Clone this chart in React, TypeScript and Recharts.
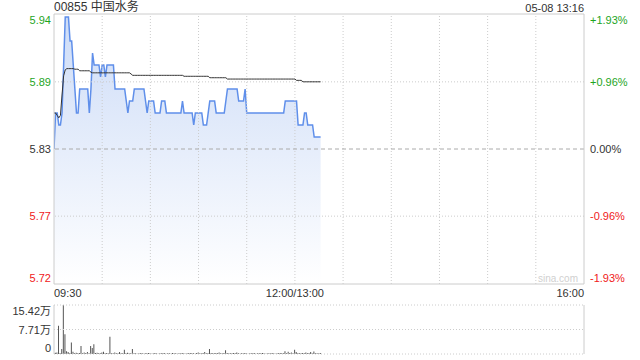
import React from 'react';
import { ComposedChart, Area, Line, XAxis, YAxis, ReferenceLine, BarChart, Bar } from 'recharts';

const stockCode = '00855';
const stockName = '中国水务';
const stampLabel = '05-08 13:16';
const watermark = 'sina.com';

const prevClose = 5.83;
const pctTicks = [1.93, 0.96, 0, -0.96, -1.93];
const priceTickLabels = ['5.94', '5.89', '5.83', '5.77', '5.72'];
const pctTickLabels = ['+1.93%', '+0.96%', '0.00%', '-0.96%', '-1.93%'];

const sessionMinutes = [0, 330];
const timeTickMinutes = [0, 150, 330];
const timeTickLabels = ['09:30', '12:00/13:00', '16:00'];
const gridMinutes = [30, 60, 90, 120, 150, 180, 210, 240, 270, 300];

const prices = [
  5.83, 5.86, 5.86, 5.85, 5.85, 5.86, 5.90, 5.94, 5.94, 5.94,
  5.92, 5.92, 5.90, 5.88, 5.86, 5.86, 5.88, 5.88, 5.88, 5.88,
  5.88, 5.88, 5.86, 5.88, 5.91, 5.90, 5.90, 5.90, 5.90, 5.89,
  5.90, 5.90, 5.89, 5.90, 5.90, 5.90, 5.90, 5.90, 5.88, 5.88,
  5.88, 5.88, 5.88, 5.88, 5.88, 5.87, 5.86, 5.87, 5.87, 5.87,
  5.88, 5.88, 5.88, 5.88, 5.88, 5.88, 5.88, 5.87, 5.86, 5.87,
  5.87, 5.87, 5.87, 5.86, 5.86, 5.86, 5.86, 5.87, 5.87, 5.87,
  5.86, 5.86, 5.86, 5.86, 5.86, 5.86, 5.86, 5.86, 5.86, 5.86,
  5.87, 5.86, 5.86, 5.86, 5.86, 5.86, 5.86, 5.85, 5.86, 5.86,
  5.86, 5.86, 5.86, 5.85, 5.85, 5.85, 5.86, 5.87, 5.87, 5.87,
  5.87, 5.86, 5.86, 5.86, 5.86, 5.86, 5.86, 5.87, 5.88, 5.88,
  5.88, 5.88, 5.88, 5.88, 5.88, 5.87, 5.87, 5.87, 5.87, 5.88,
  5.86, 5.86, 5.86, 5.86, 5.86, 5.86, 5.86, 5.86, 5.86, 5.86,
  5.86, 5.86, 5.86, 5.86, 5.86, 5.86, 5.86, 5.86, 5.86, 5.86,
  5.86, 5.86, 5.86, 5.86, 5.87, 5.87, 5.87, 5.87, 5.87, 5.87,
  5.87, 5.87, 5.85, 5.85, 5.85, 5.85, 5.86, 5.86, 5.85, 5.85,
  5.85, 5.85, 5.84, 5.84, 5.84, 5.84, 5.84,
];

const avgPrices = [
  5.86, 5.86, 5.858, 5.856, 5.858, 5.875, 5.891, 5.896, 5.897, 5.897,
  5.897, 5.897, 5.897, 5.8965, 5.8965, 5.8965, 5.8952, 5.8952, 5.8952, 5.8952,
  5.8952, 5.8952, 5.8952, 5.894, 5.8935, 5.8935, 5.8935, 5.8935, 5.8935, 5.8935,
  5.8935, 5.8935, 5.8935, 5.8935, 5.8935, 5.8935, 5.8935, 5.8935, 5.8935, 5.8935,
  5.8935, 5.8935, 5.8935, 5.8935, 5.8935, 5.8935, 5.8935, 5.8935, 5.8925, 5.8914,
  5.8914, 5.8914, 5.8914, 5.8914, 5.8914, 5.8914, 5.8914, 5.8914, 5.8914, 5.8914,
  5.8914, 5.8914, 5.8914, 5.8914, 5.8914, 5.8914, 5.8914, 5.8914, 5.8914, 5.8914,
  5.8914, 5.8914, 5.8914, 5.8914, 5.8914, 5.8914, 5.8914, 5.8914, 5.8914, 5.8914,
  5.8914, 5.8906, 5.8906, 5.8906, 5.8906, 5.8906, 5.8906, 5.8906, 5.8906, 5.8906,
  5.8906, 5.8906, 5.8906, 5.8906, 5.8906, 5.8906, 5.8906, 5.8894, 5.8894, 5.8894,
  5.8894, 5.8894, 5.8894, 5.8894, 5.8894, 5.8894, 5.8894, 5.8894, 5.8883, 5.8883,
  5.8883, 5.8883, 5.8883, 5.8883, 5.8883, 5.8883, 5.8883, 5.8883, 5.8883, 5.8883,
  5.8883, 5.8883, 5.8883, 5.8883, 5.8883, 5.8883, 5.8883, 5.8883, 5.8883, 5.8883,
  5.8883, 5.8883, 5.8883, 5.8883, 5.8883, 5.8883, 5.8883, 5.8883, 5.8883, 5.8883,
  5.8883, 5.8883, 5.8883, 5.8883, 5.8883, 5.8883, 5.8883, 5.8883, 5.8883, 5.8883,
  5.8883, 5.8872, 5.8872, 5.8872, 5.8872, 5.886, 5.886, 5.886, 5.886, 5.886,
  5.886, 5.886, 5.886, 5.886, 5.886, 5.886, 5.886,
];

const volumes = [
  0.3, 0.4, 0.5, 8.9, 0.3, 1.6, 15.42, 6.2, 0.9, 0.6,
  0.3, 3.6, 0.7, 0.2, 0.4, 0.2, 0.3, 2.5, 0.2, 0.5,
  0.3, 0.6, 0.2, 2.5, 1.9, 3.1, 0.3, 0.4, 0.2, 0.2,
  0.5, 0.7, 0.2, 0.3, 0.2, 5.4, 0.3, 0.2, 0.5, 0.2,
  0.2, 0.6, 0.2, 0.2, 1.3, 0.2, 0.4, 0.2, 0.2, 1.6,
  0.2, 0.3, 0.1, 0.2, 0.2, 0.3, 0.1, 0.2, 0.2, 0.3,
  0.2, 0.1, 0.2, 0.3, 0.2, 0.1, 0.2, 0.2, 0.3, 0.2,
  0.1, 0.2, 0.2, 0.1, 0.3, 0.2, 0.2, 0.1, 0.2, 0.2,
  0.3, 0.2, 0.1, 0.2, 0.2, 0.3, 0.2, 0.2, 0.1, 0.3,
  0.5, 0.2, 0.2, 0.3, 0.6, 0.2, 0.3, 1.6, 0.3, 0.2,
  0.2, 0.3, 0.2, 0.5, 0.2, 0.2, 0.3, 1.2, 0.3, 0.2,
  0.2, 0.2, 0.3, 0.2, 0.5, 0.2, 0.1, 0.2, 0.2, 0.3,
  0.2, 0.1, 0.2, 0.2, 0.3, 0.2, 0.1, 0.2, 0.2, 0.2,
  0.3, 0.2, 0.1, 0.2, 0.2, 0.2, 0.3, 0.2, 0.1, 0.2,
  0.2, 0.3, 0.2, 0.2, 0.9, 0.2, 0.7, 0.3, 0.5, 0.2,
  1.3, 0.6, 0.3, 0.2, 0.2, 0.3, 0.2, 0.5, 0.2, 0.3,
  0.6, 0.2, 0.8, 0.3, 0.2, 0.2, 0.3,
];

const volumeTicks = [15.42, 7.71, 0];
const volumeTickLabels = ['15.42万', '7.71万', '0'];

const FONT = '"Liberation Sans", Arial, "Noto Sans CJK SC", sans-serif';
const GREEN = '#1ea51e';
const RED = '#f02020';
const DARK = '#333333';
const GRID = '#cccccc';

const priceData = prices.map((p, i) => ({ minute: i, price: p, avg: avgPrices[i] }));
const volumeData = volumes.map((v, i) => ({ minute: i, vol: v }));

const priceTickValues = pctTicks.map((p) => prevClose * (1 + p / 100));
const priceDomain = [prevClose * (1 + pctTicks[pctTicks.length - 1] / 100), prevClose * (1 + pctTicks[0] / 100)];
const pctDomain = [pctTicks[pctTicks.length - 1], pctTicks[0]];

const findIdx = (arr: number[], v: number) => arr.findIndex((a) => Math.abs(a - v) < 1e-6);

const edgeShift = (i: number, n: number) => (i === 0 ? 6 : i === n - 1 ? -6 : 0);

const PriceTick = (props: any) => {
  const { x, y, payload } = props;
  const i = findIdx(priceTickValues, payload.value);
  if (i < 0) return null;
  const pct = pctTicks[i];
  const color = pct > 0 ? GREEN : pct < 0 ? RED : DARK;
  return (
    <text x={x} y={y + edgeShift(i, pctTicks.length)} dy={4} textAnchor="end" fill={color} fontSize={11} fontFamily={FONT}>
      {priceTickLabels[i]}
    </text>
  );
};

const PctTick = (props: any) => {
  const { x, y, payload } = props;
  const i = findIdx(pctTicks, payload.value);
  if (i < 0) return null;
  const pct = pctTicks[i];
  const color = pct > 0 ? GREEN : pct < 0 ? RED : DARK;
  return (
    <text x={x} y={y + edgeShift(i, pctTicks.length)} dy={4} textAnchor="start" fill={color} fontSize={11} fontFamily={FONT}>
      {pctTickLabels[i]}
    </text>
  );
};

const TimeTick = (props: any) => {
  const { x, y, payload } = props;
  const i = findIdx(timeTickMinutes, payload.value);
  if (i < 0) return null;
  const anchor = i === 0 ? 'start' : i === timeTickMinutes.length - 1 ? 'end' : 'middle';
  return (
    <text x={x} y={y} dy={13} textAnchor={anchor} fill={DARK} fontSize={11} fontFamily={FONT}>
      {timeTickLabels[i]}
    </text>
  );
};

const VolTick = (props: any) => {
  const { x, y, payload } = props;
  const i = findIdx(volumeTicks, payload.value);
  if (i < 0) return null;
  return (
    <text x={x} y={y + edgeShift(i, volumeTicks.length)} dy={4} textAnchor="end" fill={DARK} fontSize={11} fontFamily={FONT}>
      {volumeTickLabels[i]}
    </text>
  );
};

export default function App() {
  return (
    <div style={{ position: 'absolute', left: 0, top: 0, width: 640, height: 360, background: '#fff', fontFamily: FONT }}>
      <div style={{ position: 'absolute', left: 54, top: 0, fontSize: 12, lineHeight: '15px', color: DARK, whiteSpace: 'nowrap' }}>
        {stockCode} {stockName}
      </div>
      <div style={{ position: 'absolute', right: 56, top: 1, fontSize: 11, lineHeight: '14px', color: DARK, whiteSpace: 'nowrap' }}>
        {stampLabel}
      </div>
      <div style={{ position: 'absolute', left: 0, top: 0 }}>
        <ComposedChart width={640} height={300} data={priceData} margin={{ top: 14, right: 0, bottom: 0, left: 0 }}>
          <defs>
            <linearGradient id="areaFill" x1="0" y1="0" x2="0" y2="1">
              <stop offset="0%" stopColor="#cddcf7" stopOpacity={1} />
              <stop offset="100%" stopColor="#ffffff" stopOpacity={1} />
            </linearGradient>
          </defs>
          <XAxis
            dataKey="minute"
            type="number"
            domain={sessionMinutes}
            ticks={timeTickMinutes}
            interval={0}
            allowDataOverflow
            height={16}
            tickLine={false}
            tickSize={0}
            tickMargin={0}
            axisLine={{ stroke: GRID }}
            tick={<TimeTick />}
          />
          <YAxis
            yAxisId="price"
            orientation="left"
            type="number"
            domain={priceDomain}
            ticks={priceTickValues}
            interval={0}
            allowDataOverflow
            width={54}
            tickLine={false}
            tickSize={0}
            tickMargin={3}
            axisLine={{ stroke: GRID }}
            tick={<PriceTick />}
          />
          <YAxis
            yAxisId="pct"
            orientation="right"
            type="number"
            domain={pctDomain}
            ticks={pctTicks}
            interval={0}
            allowDataOverflow
            width={56}
            tickLine={false}
            tickSize={0}
            tickMargin={6}
            axisLine={{ stroke: GRID }}
            tick={<PctTick />}
          />
          {gridMinutes.map((m) => (
            <ReferenceLine key={'v' + m} x={m} yAxisId="pct" stroke={GRID} strokeDasharray="1 2" ifOverflow="visible" />
          ))}
          <ReferenceLine y={pctTicks[0]} yAxisId="pct" stroke={GRID} />
          <ReferenceLine y={pctTicks[1]} yAxisId="pct" stroke={GRID} strokeDasharray="1 2" />
          <ReferenceLine y={pctTicks[3]} yAxisId="pct" stroke={GRID} strokeDasharray="1 2" />
          <ReferenceLine y={pctTicks[2]} yAxisId="pct" stroke="#aaaaaa" strokeDasharray="4 3" />
          <Area
            yAxisId="price"
            type="linear"
            dataKey="price"
            stroke="#5f8fea"
            strokeWidth={1.5}
            fill="url(#areaFill)"
            fillOpacity={1}
            isAnimationActive={false}
            dot={false}
            activeDot={false}
          />
          <Line
            yAxisId="price"
            type="linear"
            dataKey="avg"
            stroke="#333333"
            strokeWidth={1}
            dot={false}
            activeDot={false}
            isAnimationActive={false}
          />
          <text x={578} y={282} textAnchor="end" fill="#d0d0d0" fontSize={10} fontFamily={FONT}>
            {watermark}
          </text>
        </ComposedChart>
      </div>
      <div style={{ position: 'absolute', left: 0, top: 300 }}>
        <BarChart width={640} height={60} data={volumeData} margin={{ top: 5, right: 0, bottom: 6, left: 0 }}>
          <XAxis dataKey="minute" type="number" domain={sessionMinutes} hide allowDataOverflow />
          <YAxis
            yAxisId="vol"
            orientation="left"
            type="number"
            domain={[volumeTicks[2], volumeTicks[0]]}
            ticks={volumeTicks}
            interval={0}
            allowDataOverflow
            width={54}
            tickLine={false}
            tickSize={0}
            tickMargin={3}
            axisLine={{ stroke: GRID }}
            tick={<VolTick />}
          />
          <YAxis
            yAxisId="volR"
            orientation="right"
            type="number"
            domain={[volumeTicks[2], volumeTicks[0]]}
            width={56}
            tick={false}
            tickLine={false}
            axisLine={{ stroke: GRID }}
          />
          <ReferenceLine y={volumeTicks[0]} yAxisId="vol" stroke={GRID} strokeDasharray="1 2" />
          <ReferenceLine y={volumeTicks[1]} yAxisId="vol" stroke={GRID} strokeDasharray="1 2" />
          <ReferenceLine y={volumeTicks[2]} yAxisId="vol" stroke={GRID} strokeDasharray="1 2" />
          <Bar yAxisId="vol" dataKey="vol" fill="#555555" barSize={1} isAnimationActive={false} />
        </BarChart>
      </div>
    </div>
  );
}
